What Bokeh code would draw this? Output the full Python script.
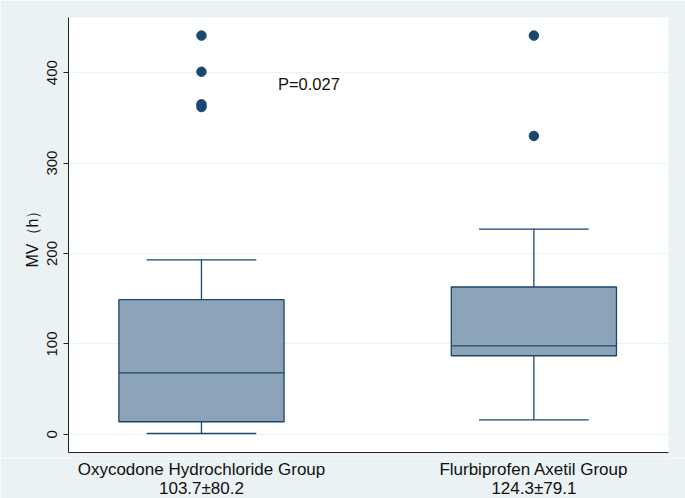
from bokeh.plotting import figure
from bokeh.layouts import column
from bokeh.models import FixedTicker, Label, ColumnDataSource, Range1d
from bokeh.core.properties import value
from bokeh.embed import file_html
from bokeh.resources import INLINE

groups = ["Oxycodone Hydrochloride Group", "Flurbiprofen Axetil Group"]
summaries = ["103.7±80.2", "124.3±79.1"]
positions = [1, 2]
q1 = [14, 87]
median = [68, 98]
q3 = [149, 163]
lower_whisker = [1, 16]
upper_whisker = [193, 227]
outlier_group = [1, 1, 1, 1, 2, 2]
outlier_value = [441, 401, 365, 362, 441, 330]
y_ticks = [0, 100, 200, 300, 400]
p_text = "P=0.027"

BG = "#EAF2F3"
NAVY = "#1A476F"
FILL = "#8DA3B8"
FONT = "Liberation Sans"
TXT = "#111111"

xr = Range1d(0.6, 2.405)
p = figure(width=685, height=458, output_backend="svg", toolbar_location=None,
           x_range=xr, y_range=(-20, 461),
           min_border_left=68, min_border_right=17, min_border_top=17, min_border_bottom=4)
p.border_fill_color = BG
p.background_fill_color = "white"
p.outline_line_color = None

src = ColumnDataSource(dict(x=positions, q1=q1, med=median, q3=q3, lo=lower_whisker, hi=upper_whisker))
cap = 0.165
bw = 0.497 / 2
src.data["cl"] = [v - cap for v in positions]
src.data["cr"] = [v + cap for v in positions]
src.data["bl"] = [v - bw for v in positions]
src.data["br"] = [v + bw for v in positions]
# whiskers
p.segment(x0="x", y0="q3", x1="x", y1="hi", source=src, line_color=NAVY, line_width=1.3)
p.segment(x0="x", y0="lo", x1="x", y1="q1", source=src, line_color=NAVY, line_width=1.3)
p.segment(x0="cl", y0="hi", x1="cr", y1="hi", source=src, line_color=NAVY, line_width=1.3)
p.segment(x0="cl", y0="lo", x1="cr", y1="lo", source=src, line_color=NAVY, line_width=1.3)
# boxes
p.vbar(x="x", width=0.497, bottom="q1", top="q3", source=src, fill_color=FILL,
       line_color=NAVY, line_width=1.3)
p.segment(x0="bl", y0="med", x1="br", y1="med", source=src, line_color=NAVY, line_width=1.3)
# outliers
p.scatter(outlier_group, outlier_value, size=9.5, fill_color=NAVY, line_color=NAVY)

p.add_layout(Label(x=1.23, y=388, text=p_text, text_font=FONT, text_font_size="16.5px",
                   text_color=TXT, text_baseline="middle", text_align="left"))

# axes
p.xgrid.grid_line_color = None
p.ygrid.grid_line_color = BG
p.ygrid.grid_line_width = 1.2
p.yaxis.ticker = FixedTicker(ticks=y_ticks)
p.xaxis.ticker = FixedTicker(ticks=positions)
p.xaxis.major_label_overrides = {pos: "" for pos in positions}
p.xaxis.major_label_standoff = 0
p.xaxis.major_label_text_font_size = "1px"
for ax in (p.xaxis[0], p.yaxis[0]):
    ax.axis_line_color = "#222222"
    ax.axis_line_width = 1
    ax.minor_tick_line_color = None
    ax.major_label_text_font = FONT
    ax.major_label_text_color = TXT
p.xaxis.major_tick_line_color = None
p.yaxis.major_tick_line_color = "#222222"
p.yaxis.major_tick_out = 5
p.yaxis.major_tick_in = 0
p.yaxis.major_label_text_font_size = "15px"
p.yaxis.major_label_orientation = "parallel"
p.yaxis.major_label_standoff = 6
p.yaxis.axis_label = "MV（h）"
p.yaxis.axis_label_text_font = FONT
p.yaxis.axis_label_text_font_style = "normal"
p.yaxis.axis_label_text_font_size = "16px"
p.yaxis.axis_label_text_color = TXT
p.yaxis.axis_label_standoff = 4

# strip below the axis holding the two-line category labels
q = figure(width=685, height=40, output_backend="svg", toolbar_location=None,
           x_range=xr, y_range=Range1d(40, 0), x_axis_type=None, y_axis_type=None,
           min_border_left=68, min_border_right=17, min_border_top=0, min_border_bottom=0)
q.border_fill_color = BG
q.background_fill_color = BG
q.outline_line_color = None
q.xgrid.grid_line_color = None
q.ygrid.grid_line_color = None
lab = ColumnDataSource(dict(x=positions, g=groups, s=summaries))
q.text(x="x", y=11, text="g", source=lab, text_font=value(FONT), text_font_size="17px",
       text_color=TXT, text_baseline="middle", text_align="center")
q.text(x="x", y=29.5, text="s", source=lab, text_font=value(FONT), text_font_size="17px",
       text_color=TXT, text_baseline="middle", text_align="center")

layout = column(p, q, spacing=0)
html = file_html(layout, INLINE)
html = html.replace("<body>", '<body style="background:%s">' % BG, 1)
open("out.html", "w").write(html)
